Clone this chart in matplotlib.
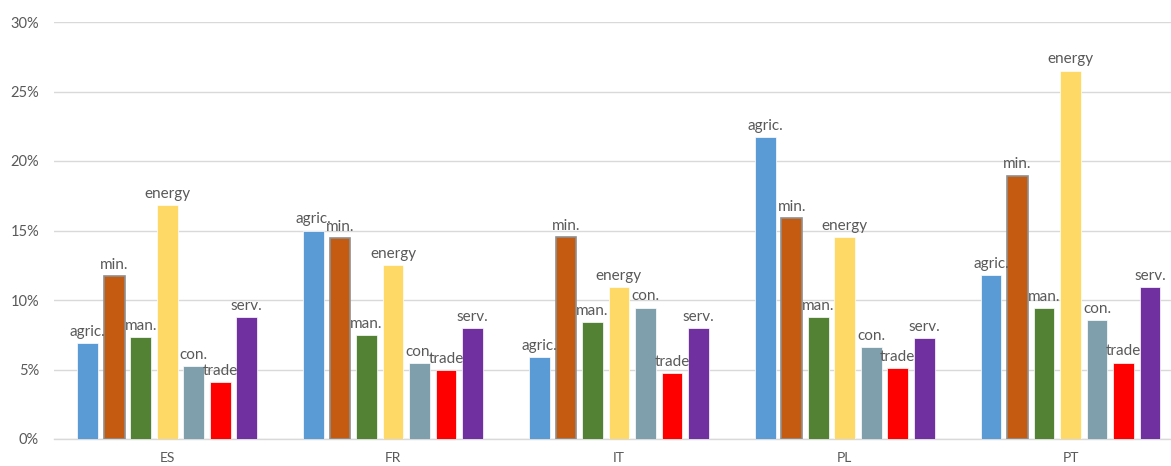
import matplotlib
matplotlib.use("Agg")
import matplotlib.pyplot as plt
import numpy as np

countries = ["ES", "FR", "IT", "PL", "PT"]
sectors = ["agric.", "min.", "man.", "energy", "con.", "trade", "serv."]
agric = [6.9, 15.0, 5.9, 21.75, 11.8]
mining = [11.7, 14.45, 14.55, 15.9, 18.95]
manuf = [7.35, 7.45, 8.4, 8.75, 9.4]
energy = [16.8, 12.5, 10.9, 14.55, 26.5]
constr = [5.25, 5.45, 9.45, 6.6, 8.55]
trade = [4.1, 4.95, 4.75, 5.1, 5.5]
serv = [8.8, 8.0, 8.0, 7.25, 10.9]
series = [agric, mining, manuf, energy, constr, trade, serv]
colors = ["#5B9BD5", "#C55A11", "#548235", "#FFD966", "#7F9FAC", "#FF0000", "#7030A0"]
yticks = [0, 5, 10, 15, 20, 25, 30]
ytick_labels = ["0%", "5%", "10%", "15%", "20%", "25%", "30%"]

plt.rcParams['font.family'] = ['Lato', 'DejaVu Sans']
W, H = 1171, 466
fig = plt.figure(figsize=(W/100, H/100), dpi=100)
left, right, bottom, top = 54.3, 1183.5, 439, 22
ax = fig.add_axes([left/W, (H-bottom)/H, (right-left)/W, (bottom-top)/H])

x = np.arange(len(countries))
slot = 0.1174
width = 0.0917
for j, (vals, c, name) in enumerate(zip(series, colors, sectors)):
    pos = x + (j - 3) * slot
    if name == "min.":
        ax.bar(pos, vals, width, color=c, edgecolor="#8f8f8f", linewidth=1.2, zorder=3)
    else:
        ax.bar(pos, vals, width, color=c, edgecolor="white", linewidth=0.5, zorder=3)
    for p, v in zip(pos, vals):
        ax.annotate(name, (p, v), xytext=(0, 3), textcoords="offset points",
                    ha="center", va="bottom", fontsize=11, color="#595959", zorder=4)

ax.set_xlim(-0.5, len(countries) - 0.5)
ax.set_ylim(0, 30)
ax.set_yticks(yticks)
ax.set_yticklabels(ytick_labels)
ax.set_xticks(x)
ax.set_xticklabels(countries)
ax.tick_params(axis="y", length=0, pad=11, labelsize=10.5, labelcolor="#595959")
ax.tick_params(axis="x", length=0, pad=9.5, labelsize=10, labelcolor="#595959")
ax.grid(axis="y", color="#D9D9D9", linewidth=1, zorder=0)
ax.set_axisbelow(True)
for s in ["top", "right", "left"]:
    ax.spines[s].set_visible(False)
ax.spines["bottom"].set_color("#D9D9D9")
ax.spines["bottom"].set_linewidth(1)

fig.savefig("out.png", dpi=100)
